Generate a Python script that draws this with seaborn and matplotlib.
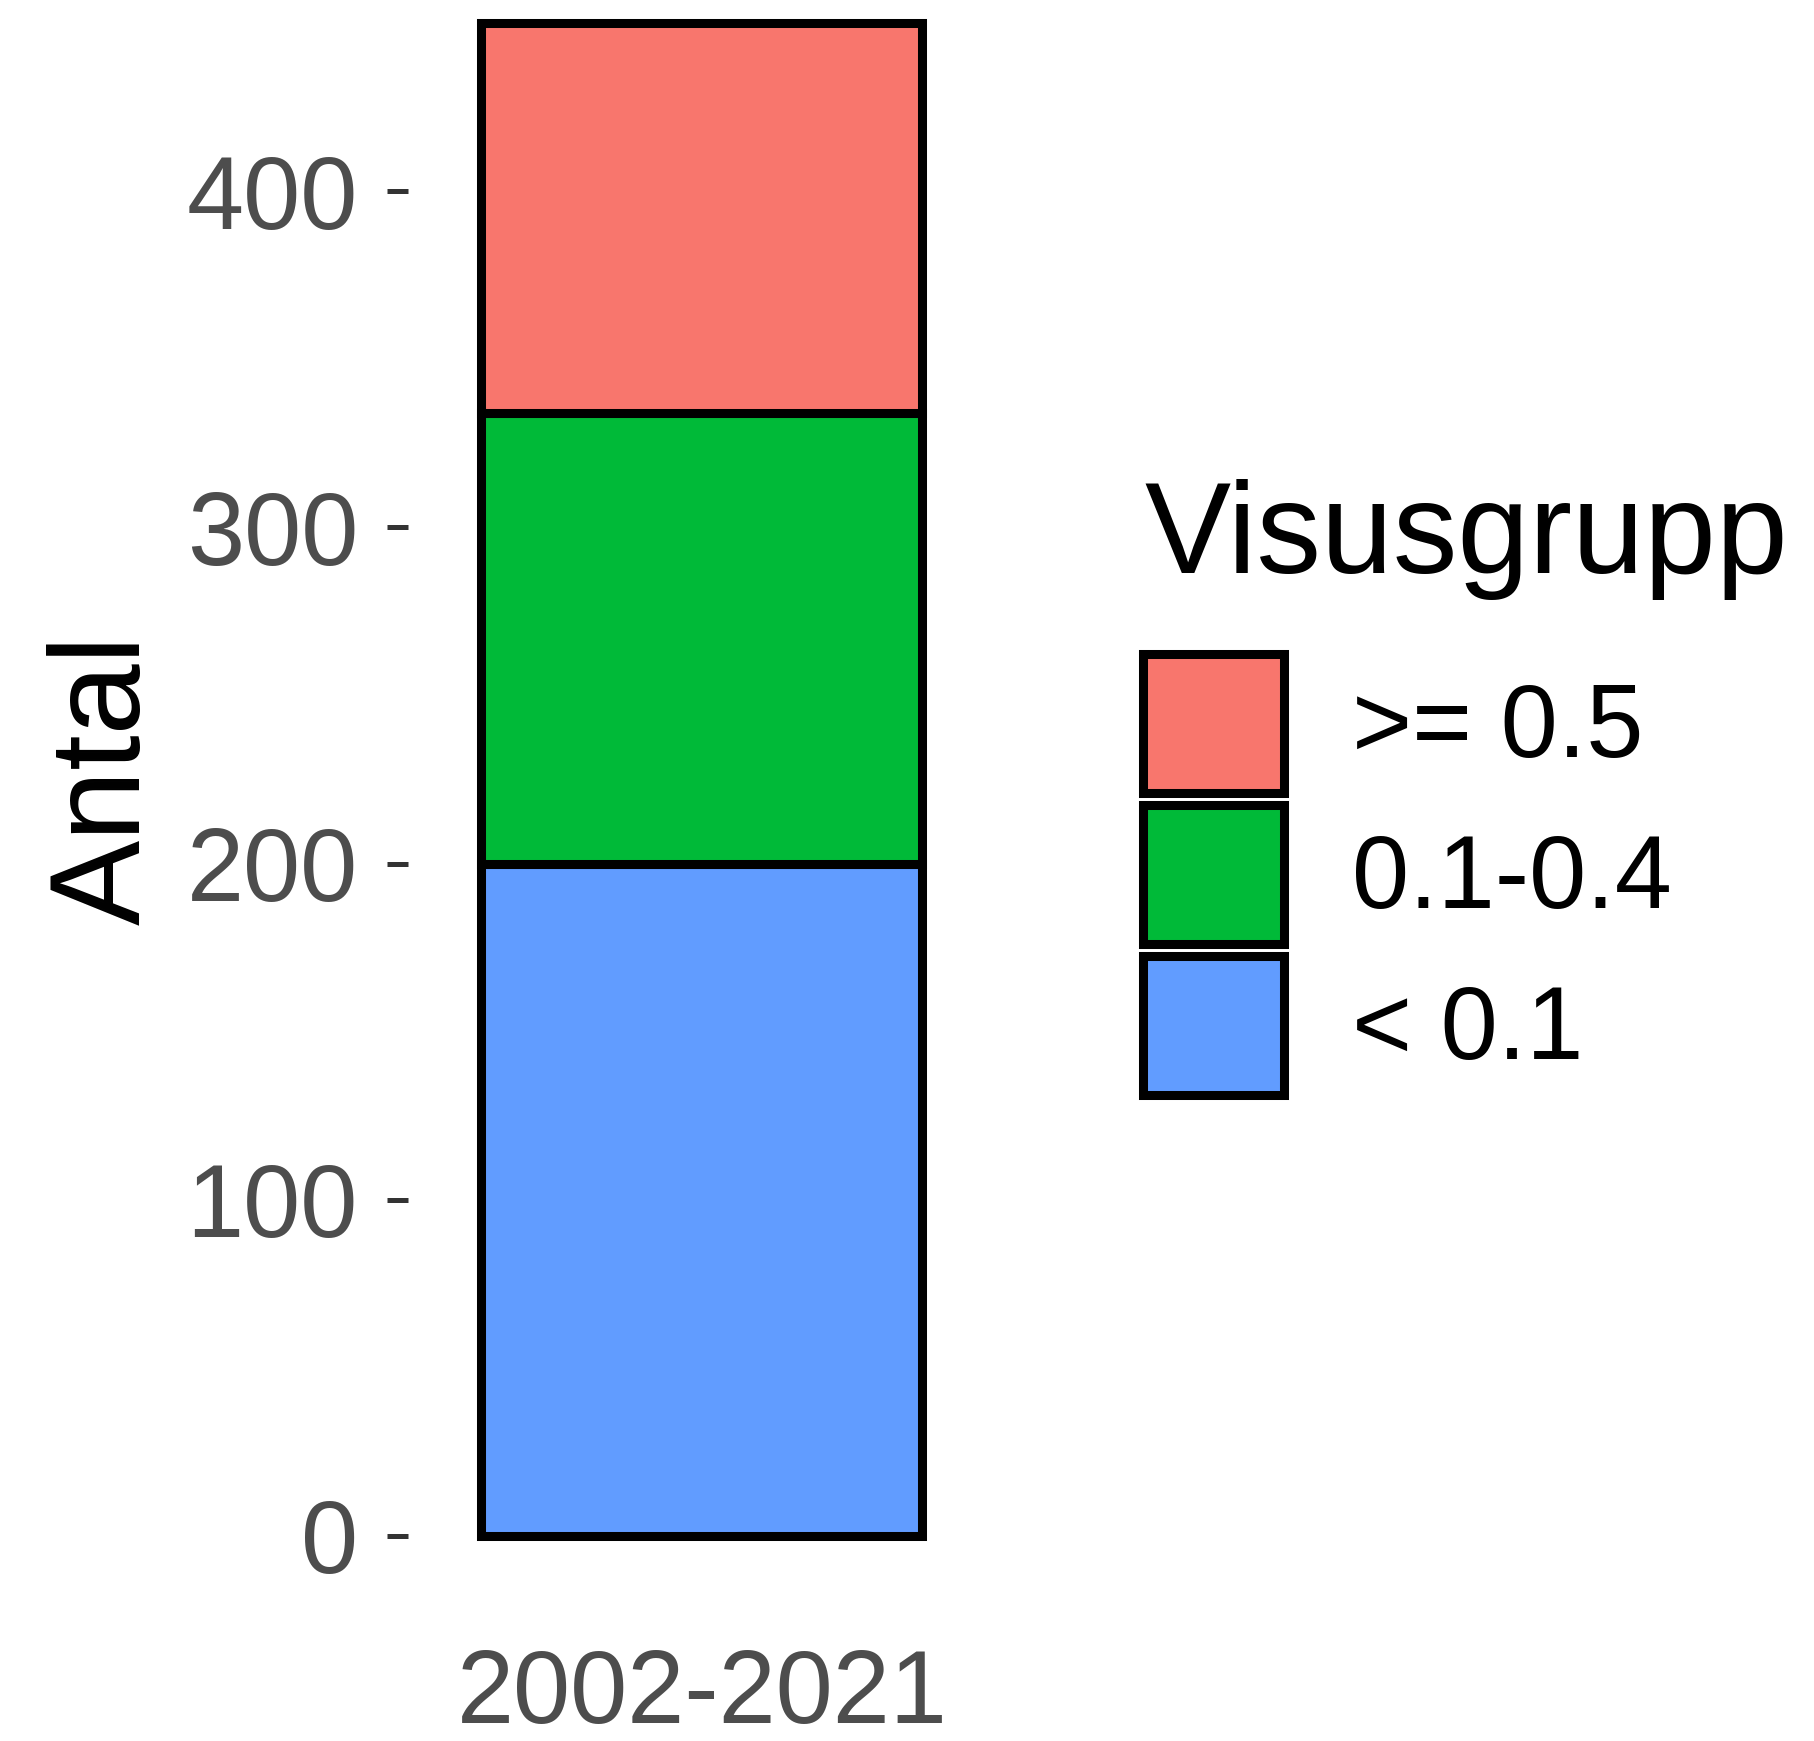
import matplotlib
matplotlib.use("Agg")
import matplotlib.pyplot as plt
from matplotlib.patches import Patch
import seaborn as sns
import pandas as pd

# data
periods = ["2002-2021", "2002-2021", "2002-2021"]
groups = [">= 0.5", "0.1-0.4", "< 0.1"]
counts = [116, 134, 200]
colors = ["#F8766D", "#00BA38", "#619CFF"]
y_ticks = [0, 100, 200, 300, 400]

df = pd.DataFrame({"period": periods, "group": groups, "count": counts})

sns.set_style("white")
plt.rcParams["font.family"] = ["Liberation Sans", "DejaVu Sans"]

fig = plt.figure(figsize=(18.15, 17.41), dpi=100)
ax = fig.add_axes([408 / 1815, 205 / 1741, 588 / 1815, 1513 / 1741])

sns.histplot(
    data=df, x="period", weights="count", hue="group", hue_order=groups,
    palette=colors, multiple="stack", discrete=True, shrink=0.9, alpha=1,
    edgecolor="black", linewidth=6.5, legend=False, ax=ax,
)
for p in ax.patches:
    p.set_clip_on(False)

ax.set_xlim(-0.6, 0.6)
ax.set_ylim(0, sum(counts))
ax.set_yticks(y_ticks)
ax.tick_params(axis="y", left=True, length=15, width=3.6, color="#333333",
               pad=21, labelsize=74, labelcolor="#4D4D4D")
ax.tick_params(axis="x", bottom=False, length=0, pad=81, labelsize=74,
               labelcolor="#4D4D4D")
ax.set_xlabel("")
ax.set_ylabel("Antal", fontsize=92, color="black")
ax.yaxis.set_label_coords(-0.41, 0.5)
for s in ax.spines.values():
    s.set_visible(False)

# legend
fig.text(1144 / 1815, (1741 - 573) / 1741, "Visusgrupp", fontsize=93,
         color="black", ha="left", va="baseline")
handles = [Patch(facecolor=c, edgecolor="black", linewidth=6.5) for c in colors]
fig.legend(handles, groups, loc="upper left",
           bbox_to_anchor=(1143 / 1815, (1741 - 654) / 1741),
           frameon=False, fontsize=74, labelcolor="black",
           handlelength=1.376, handleheight=1.711,
           labelspacing=0.11, handletextpad=0.66, borderpad=0, borderaxespad=0)

fig.savefig("out.png", dpi=100)
